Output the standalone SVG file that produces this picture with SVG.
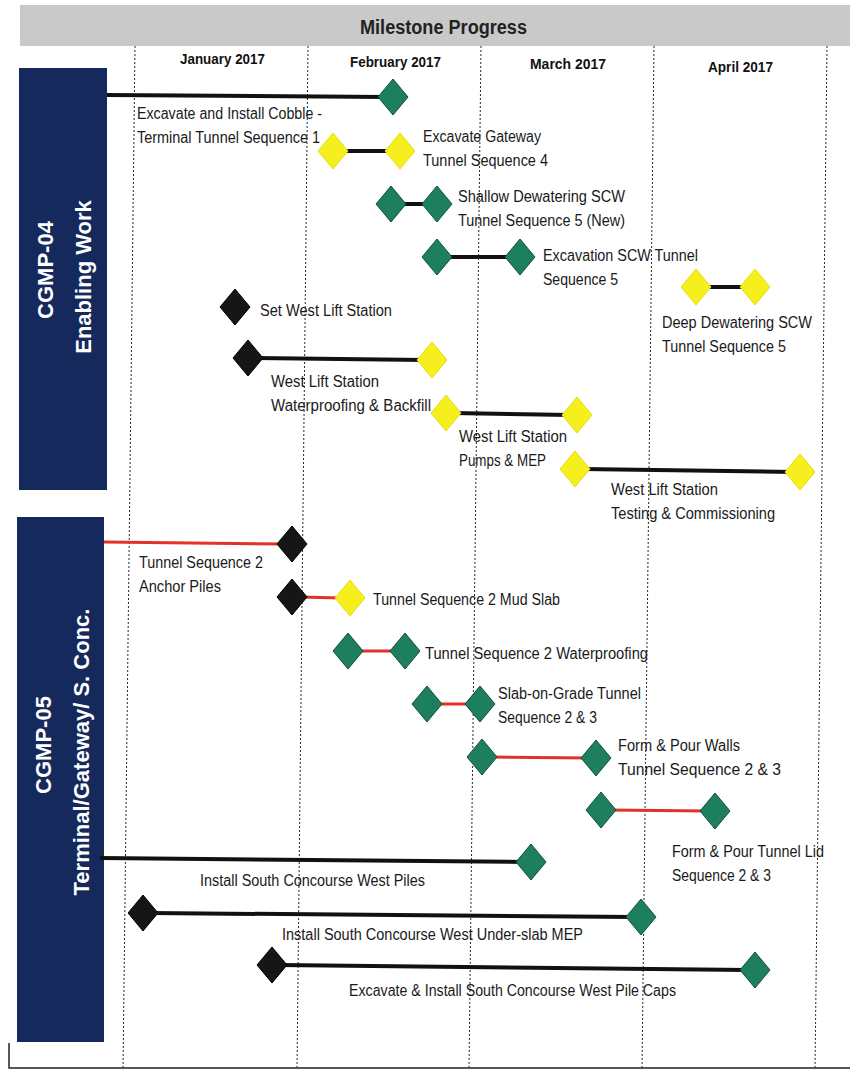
<svg xmlns="http://www.w3.org/2000/svg" width="850" height="1075" viewBox="0 0 850 1075">
<style>
.lbl{font-family:"Liberation Sans",Arial,sans-serif;font-size:16px;fill:#1a1a1a}
.mon{font-family:"Liberation Sans",Arial,sans-serif;font-size:15px;font-weight:bold;fill:#111}
.bar{fill:#15295c}
.bt{font-family:"Liberation Sans",Arial,sans-serif;font-size:22px;font-weight:bold;fill:#fff}
.grid{stroke:#222;stroke-width:1;stroke-dasharray:2,2;fill:none}
.kl{stroke:#111;stroke-width:4;fill:none}
.rl{stroke:#e33128;stroke-width:3;fill:none}
.g{fill:#1d7f5f;stroke:#11503b;stroke-width:1}
.y{fill:#f6ef1e;stroke:#e6de10;stroke-width:1}
.k{fill:#161616;stroke:#000;stroke-width:1}
</style>
<defs>
<path id="dm" d="M0,-18 L15,0 L0,18 L-15,0 Z"/>
</defs>
<rect x="0" y="0" width="850" height="1075" fill="#fff"/>
<g id="header">
<rect x="20" y="5" width="830" height="41" fill="#c9c9c9"/>
<text x="360" y="34" font-family="Liberation Sans,Arial,sans-serif" font-size="20" font-weight="bold" fill="#222" textLength="167" lengthAdjust="spacingAndGlyphs">Milestone Progress</text>
<text class="mon" x="180" y="64" textLength="85" lengthAdjust="spacingAndGlyphs">January 2017</text>
<text class="mon" x="350" y="67" textLength="91" lengthAdjust="spacingAndGlyphs">February 2017</text>
<text class="mon" x="530" y="69" textLength="76" lengthAdjust="spacingAndGlyphs">March 2017</text>
<text class="mon" x="708" y="72" textLength="65" lengthAdjust="spacingAndGlyphs">April 2017</text>
</g>
<g id="grid">
<line class="grid" x1="135" y1="46" x2="123" y2="1070"/>
<line class="grid" x1="308" y1="46" x2="297" y2="1070"/>
<line class="grid" x1="481" y1="46" x2="469" y2="1070"/>
<line class="grid" x1="654" y1="46" x2="642" y2="1070"/>
<line class="grid" x1="827" y1="46" x2="815" y2="1070"/>
<path d="M9,1043 V1068 H850" fill="none" stroke="#222" stroke-width="1.5"/>
</g>
<g id="cgmp04">
<rect class="bar" x="19" y="68" width="88" height="422"/>
<text class="bt" transform="translate(53,270) rotate(-90)" text-anchor="middle">CGMP-04</text>
<text class="bt" transform="translate(91,277) rotate(-90)" text-anchor="middle">Enabling Work</text>
</g>
<g id="cgmp05">
<rect class="bar" x="17" y="517" width="87" height="525"/>
<text class="bt" transform="translate(51,745) rotate(-90)" text-anchor="middle">CGMP-05</text>
<text class="bt" transform="translate(89,752) rotate(-90)" text-anchor="middle">Terminal/Gateway/ S. Conc.</text>
</g>
<g id="connectors">
<line class="kl" x1="107" y1="95" x2="385" y2="97"/>
<line class="kl" x1="340" y1="151" x2="392" y2="151"/>
<line class="kl" x1="398" y1="204" x2="430" y2="204"/>
<line class="kl" x1="444" y1="257" x2="513" y2="257"/>
<line class="kl" x1="703" y1="287" x2="748" y2="287"/>
<line class="kl" x1="255" y1="358" x2="425" y2="360"/>
<line class="kl" x1="453" y1="413" x2="570" y2="415"/>
<line class="kl" x1="582" y1="469" x2="793" y2="472"/>
<line class="rl" x1="104" y1="542" x2="285" y2="544"/>
<line class="rl" x1="299" y1="597" x2="343" y2="598"/>
<line class="rl" x1="355" y1="651" x2="398" y2="651"/>
<line class="rl" x1="434" y1="704" x2="473" y2="704"/>
<line class="rl" x1="489" y1="757" x2="589" y2="758"/>
<line class="rl" x1="608" y1="810" x2="708" y2="811"/>
<line class="kl" x1="100" y1="858" x2="524" y2="862"/>
<line class="kl" x1="150" y1="913" x2="634" y2="917"/>
<line class="kl" x1="279" y1="965" x2="748" y2="970"/>
</g>
<g id="m1"><use href="#dm" class="g" x="393" y="97"/>
<text class="lbl" x="137" y="119" textLength="185" lengthAdjust="spacingAndGlyphs">Excavate and Install Cobble -</text>
<text class="lbl" x="137" y="143" textLength="183" lengthAdjust="spacingAndGlyphs">Terminal Tunnel Sequence 1</text></g>
<g id="m2"><use href="#dm" class="y" x="333" y="151"/><use href="#dm" class="y" x="400" y="151"/>
<text class="lbl" x="423" y="142" textLength="118" lengthAdjust="spacingAndGlyphs">Excavate Gateway</text>
<text class="lbl" x="423" y="166" textLength="125" lengthAdjust="spacingAndGlyphs">Tunnel Sequence 4</text></g>
<g id="m3"><use href="#dm" class="g" x="391" y="204"/><use href="#dm" class="g" x="437" y="204"/>
<text class="lbl" x="458" y="202" textLength="167" lengthAdjust="spacingAndGlyphs">Shallow Dewatering  SCW</text>
<text class="lbl" x="458" y="226" textLength="167" lengthAdjust="spacingAndGlyphs">Tunnel Sequence 5 (New)</text></g>
<g id="m4"><use href="#dm" class="g" x="437" y="257"/><use href="#dm" class="g" x="520" y="257"/>
<text class="lbl" x="543" y="261" textLength="155" lengthAdjust="spacingAndGlyphs">Excavation  SCW Tunnel</text>
<text class="lbl" x="543" y="285" textLength="75" lengthAdjust="spacingAndGlyphs">Sequence 5</text></g>
<g id="m5"><use href="#dm" class="y" x="696" y="287"/><use href="#dm" class="y" x="755" y="287"/>
<text class="lbl" x="662" y="328" textLength="150" lengthAdjust="spacingAndGlyphs">Deep Dewatering  SCW</text>
<text class="lbl" x="662" y="352" textLength="124" lengthAdjust="spacingAndGlyphs">Tunnel Sequence 5</text></g>
<g id="m6"><use href="#dm" class="k" x="235" y="307"/>
<text class="lbl" x="260" y="316" textLength="132" lengthAdjust="spacingAndGlyphs">Set West Lift Station</text></g>
<g id="m7"><use href="#dm" class="k" x="248" y="358"/><use href="#dm" class="y" x="432" y="360"/>
<text class="lbl" x="271" y="387" textLength="108" lengthAdjust="spacingAndGlyphs">West Lift Station</text>
<text class="lbl" x="271" y="411" textLength="160" lengthAdjust="spacingAndGlyphs">Waterproofing &amp; Backfill</text></g>
<g id="m8"><use href="#dm" class="y" x="446" y="413"/><use href="#dm" class="y" x="577" y="415"/>
<text class="lbl" x="459" y="442" textLength="108" lengthAdjust="spacingAndGlyphs">West Lift Station</text>
<text class="lbl" x="459" y="466" textLength="87" lengthAdjust="spacingAndGlyphs">Pumps &amp; MEP</text></g>
<g id="m9"><use href="#dm" class="y" x="575" y="469"/><use href="#dm" class="y" x="800" y="472"/>
<text class="lbl" x="611" y="495" textLength="107" lengthAdjust="spacingAndGlyphs">West Lift Station</text>
<text class="lbl" x="611" y="519" textLength="164" lengthAdjust="spacingAndGlyphs">Testing &amp; Commissioning</text></g>
<g id="m10"><use href="#dm" class="k" x="292" y="544"/>
<text class="lbl" x="139" y="568" textLength="124" lengthAdjust="spacingAndGlyphs">Tunnel Sequence 2</text>
<text class="lbl" x="139" y="592" textLength="82" lengthAdjust="spacingAndGlyphs">Anchor Piles</text></g>
<g id="m11"><use href="#dm" class="k" x="292" y="597"/><use href="#dm" class="y" x="350" y="598"/>
<text class="lbl" x="373" y="605" textLength="187" lengthAdjust="spacingAndGlyphs">Tunnel Sequence 2 Mud Slab</text></g>
<g id="m12"><use href="#dm" class="g" x="348" y="651"/><use href="#dm" class="g" x="405" y="651"/>
<text class="lbl" x="425" y="659" textLength="223" lengthAdjust="spacingAndGlyphs">Tunnel Sequence 2 Waterproofing</text></g>
<g id="m13"><use href="#dm" class="g" x="427" y="704"/><use href="#dm" class="g" x="480" y="704"/>
<text class="lbl" x="498" y="699" textLength="143" lengthAdjust="spacingAndGlyphs">Slab-on-Grade Tunnel</text>
<text class="lbl" x="498" y="723" textLength="99" lengthAdjust="spacingAndGlyphs">Sequence 2 &amp; 3</text></g>
<g id="m14"><use href="#dm" class="g" x="482" y="757"/><use href="#dm" class="g" x="596" y="758"/>
<text class="lbl" x="618" y="751" textLength="122" lengthAdjust="spacingAndGlyphs">Form &amp; Pour Walls</text>
<text class="lbl" x="618" y="775" textLength="163" lengthAdjust="spacingAndGlyphs">Tunnel Sequence 2 &amp; 3</text></g>
<g id="m15"><use href="#dm" class="g" x="601" y="810"/><use href="#dm" class="g" x="715" y="811"/>
<text class="lbl" x="672" y="857" textLength="152" lengthAdjust="spacingAndGlyphs">Form &amp; Pour Tunnel Lid</text>
<text class="lbl" x="672" y="881" textLength="99" lengthAdjust="spacingAndGlyphs">Sequence 2 &amp; 3</text></g>
<g id="m16"><use href="#dm" class="g" x="531" y="862"/>
<text class="lbl" x="200" y="886" textLength="225" lengthAdjust="spacingAndGlyphs">Install South Concourse West Piles</text></g>
<g id="m17"><use href="#dm" class="k" x="143" y="913"/><use href="#dm" class="g" x="641" y="917"/>
<text class="lbl" x="282" y="940" textLength="301" lengthAdjust="spacingAndGlyphs">Install South Concourse West Under-slab MEP</text></g>
<g id="m18"><use href="#dm" class="k" x="272" y="965"/><use href="#dm" class="g" x="755" y="970"/>
<text class="lbl" x="349" y="996" textLength="327" lengthAdjust="spacingAndGlyphs">Excavate &amp; Install South Concourse West Pile Caps</text></g>
</svg>
